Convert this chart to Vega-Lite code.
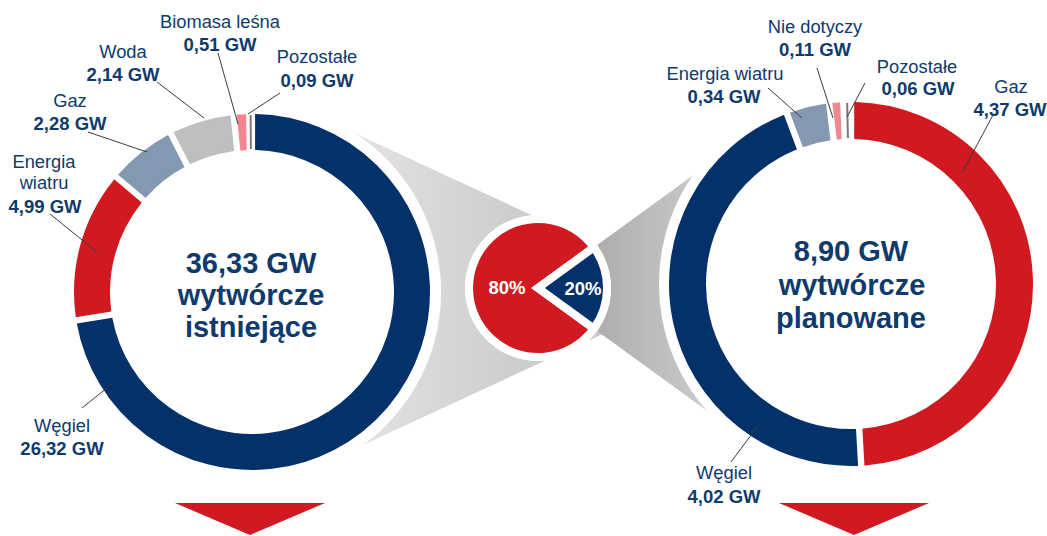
{
"$schema": "https://vega.github.io/schema/vega-lite/v6.json",
"width": 1047, "height": 536, "autosize": {"type": "none"}, "padding": 0, "background": "white",
"config": {"view": {"stroke": null}, "text": {"font": "Liberation Sans"},
  "locale": {"number": {"decimal": ",", "thousands": " ", "grouping": [3], "currency": ["", " GW"], "percent": "%"}}},
"datasets": {
  "istniejace": [{"zrodlo": "Węgiel", "gw": 26.32}, {"zrodlo": "Energia wiatru", "gw": 4.99}, {"zrodlo": "Gaz", "gw": 2.28}, {"zrodlo": "Woda", "gw": 2.14}, {"zrodlo": "Biomasa leśna", "gw": 0.51}, {"zrodlo": "Pozostałe", "gw": 0.09}],
  "planowane": [{"zrodlo": "Gaz", "gw": 4.37}, {"zrodlo": "Węgiel", "gw": 4.02}, {"zrodlo": "Energia wiatru", "gw": 0.34}, {"zrodlo": "Nie dotyczy", "gw": 0.11}, {"zrodlo": "Pozostałe", "gw": 0.06}],
  "udzial": [{"moc": "istniejące", "udzial": 0.8}, {"moc": "planowane", "udzial": 0.2}]
},
"resolve": {"scale": {"theta": "independent", "color": "independent", "stroke": "independent"}},
"layer": [
  {"data": {"name": "udzial"}, "transform": [{"filter": {"field": "moc", "equal": "istniejące"}}],
   "mark": {"type": "arc", "theta": 4.2796, "theta2": 5.1452, "radius": 395, "radius2": 0,
     "fill": {"gradient": "linear", "x1": 0, "y1": 0, "x2": 1, "y2": 0, "stops": [{"offset": 0.1, "color": "#e4e5e7"}, {"offset": 0.62, "color": "#c8c9cb"}]}},
   "encoding": {"x": {"datum": 696, "type": "quantitative", "scale": {"domain": [0, 1047], "nice": false, "zero": false}, "axis": null},
                "y": {"datum": 291, "type": "quantitative", "scale": {"domain": [0, 536], "nice": false, "zero": false, "reverse": true}, "axis": null}}},
  {"data": {"name": "udzial"}, "transform": [{"filter": {"field": "moc", "equal": "planowane"}}],
   "mark": {"type": "arc", "theta": 0.9425, "theta2": 2.1991, "radius": 295, "radius2": 0,
     "fill": {"gradient": "linear", "x1": 0, "y1": 0, "x2": 1, "y2": 0, "stops": [{"offset": 0.2, "color": "#adadad"}, {"offset": 0.55, "color": "#c9c9c9"}]}},
   "encoding": {"x": {"datum": 538, "type": "quantitative", "scale": {"domain": [0, 1047], "nice": false, "zero": false}, "axis": null},
                "y": {"datum": 288, "type": "quantitative", "scale": {"domain": [0, 536], "nice": false, "zero": false, "reverse": true}, "axis": null}}},
  {"data": {"name": "istniejace"},
   "layer": [
     {"transform": [{"aggregate": [{"op": "sum", "field": "gw", "as": "suma"}]}],
      "mark": {"type": "arc", "radius": 189, "radius2": 0, "fill": "white"},
      "encoding": {"x": {"datum": 252, "type": "quantitative", "scale": {"domain": [0, 1047], "nice": false, "zero": false}, "axis": null},
                   "y": {"datum": 292, "type": "quantitative", "scale": {"domain": [0, 536], "nice": false, "zero": false, "reverse": true}, "axis": null}}},
     {"mark": {"type": "arc", "radius": 177, "radius2": 143, "padAngle": 0.036, "strokeWidth": 2},
      "encoding": {"x": {"datum": 252, "type": "quantitative", "scale": {"domain": [0, 1047], "nice": false, "zero": false}, "axis": null},
                   "y": {"datum": 292, "type": "quantitative", "scale": {"domain": [0, 536], "nice": false, "zero": false, "reverse": true}, "axis": null},
                   "theta": {"field": "gw", "type": "quantitative", "stack": true},
                   "order": {"field": "gw", "type": "quantitative", "sort": "descending"},
                   "color": {"field": "zrodlo", "type": "nominal", "legend": null, "scale": {"domain": ["Węgiel", "Energia wiatru", "Gaz", "Woda", "Biomasa leśna", "Pozostałe"], "range": ["#05316b", "#d01920", "#8598b1", "#bfbfbf", "#f2878f", "#7a7a7a"]}},
                   "stroke": {"field": "zrodlo", "type": "nominal", "legend": null, "scale": {"domain": ["Węgiel", "Energia wiatru", "Gaz", "Woda", "Biomasa leśna", "Pozostałe"], "range": ["#05316b", "#d01920", "#8598b1", "#bfbfbf", "#f2878f", "#7a7a7a"]}}}},
     {"transform": [{"aggregate": [{"op": "sum", "field": "gw", "as": "suma"}]}],
      "mark": {"type": "text", "fontSize": 29, "fontWeight": "bold", "color": "#0e3a6c", "baseline": "alphabetic"},
      "encoding": {"x": {"datum": 251, "type": "quantitative", "scale": {"domain": [0, 1047], "nice": false, "zero": false}, "axis": null},
                   "y": {"datum": 273, "type": "quantitative", "scale": {"domain": [0, 536], "nice": false, "zero": false, "reverse": true}, "axis": null},
                   "text": {"field": "suma", "type": "quantitative", "format": "$.2f"}}},
     {"transform": [{"aggregate": [{"op": "sum", "field": "gw", "as": "suma"}]}],
      "mark": {"type": "text", "text": "wytwórcze", "fontSize": 29, "fontWeight": "bold", "color": "#0e3a6c", "baseline": "alphabetic"},
      "encoding": {"x": {"datum": 251, "type": "quantitative", "scale": {"domain": [0, 1047], "nice": false, "zero": false}, "axis": null},
                   "y": {"datum": 305, "type": "quantitative", "scale": {"domain": [0, 536], "nice": false, "zero": false, "reverse": true}, "axis": null}}},
     {"transform": [{"aggregate": [{"op": "sum", "field": "gw", "as": "suma"}]}],
      "mark": {"type": "text", "text": "istniejące", "fontSize": 29, "fontWeight": "bold", "color": "#0e3a6c", "baseline": "alphabetic"},
      "encoding": {"x": {"datum": 251, "type": "quantitative", "scale": {"domain": [0, 1047], "nice": false, "zero": false}, "axis": null},
                   "y": {"datum": 337, "type": "quantitative", "scale": {"domain": [0, 536], "nice": false, "zero": false, "reverse": true}, "axis": null}}}
   ]},
  {"data": {"name": "planowane"},
   "layer": [
     {"transform": [{"aggregate": [{"op": "sum", "field": "gw", "as": "suma"}]}],
      "mark": {"type": "arc", "radius": 192, "radius2": 0, "fill": "white"},
      "encoding": {"x": {"datum": 851, "type": "quantitative", "scale": {"domain": [0, 1047], "nice": false, "zero": false}, "axis": null},
                   "y": {"datum": 284, "type": "quantitative", "scale": {"domain": [0, 536], "nice": false, "zero": false, "reverse": true}, "axis": null}}},
     {"mark": {"type": "arc", "radius": 181, "radius2": 146, "padAngle": 0.036, "strokeWidth": 2},
      "encoding": {"x": {"datum": 851, "type": "quantitative", "scale": {"domain": [0, 1047], "nice": false, "zero": false}, "axis": null},
                   "y": {"datum": 284, "type": "quantitative", "scale": {"domain": [0, 536], "nice": false, "zero": false, "reverse": true}, "axis": null},
                   "theta": {"field": "gw", "type": "quantitative", "stack": true},
                   "order": {"field": "gw", "type": "quantitative", "sort": "descending"},
                   "color": {"field": "zrodlo", "type": "nominal", "legend": null, "scale": {"domain": ["Gaz", "Węgiel", "Energia wiatru", "Nie dotyczy", "Pozostałe"], "range": ["#d01920", "#05316b", "#8598b1", "#f2878f", "#7a7a7a"]}},
                   "stroke": {"field": "zrodlo", "type": "nominal", "legend": null, "scale": {"domain": ["Gaz", "Węgiel", "Energia wiatru", "Nie dotyczy", "Pozostałe"], "range": ["#d01920", "#05316b", "#8598b1", "#f2878f", "#7a7a7a"]}}}},
     {"transform": [{"aggregate": [{"op": "sum", "field": "gw", "as": "suma"}]}],
      "mark": {"type": "text", "fontSize": 29, "fontWeight": "bold", "color": "#0e3a6c", "baseline": "alphabetic"},
      "encoding": {"x": {"datum": 851, "type": "quantitative", "scale": {"domain": [0, 1047], "nice": false, "zero": false}, "axis": null},
                   "y": {"datum": 261, "type": "quantitative", "scale": {"domain": [0, 536], "nice": false, "zero": false, "reverse": true}, "axis": null},
                   "text": {"field": "suma", "type": "quantitative", "format": "$.2f"}}},
     {"transform": [{"aggregate": [{"op": "sum", "field": "gw", "as": "suma"}]}],
      "mark": {"type": "text", "text": "wytwórcze", "fontSize": 29, "fontWeight": "bold", "color": "#0e3a6c", "baseline": "alphabetic"},
      "encoding": {"x": {"datum": 852, "type": "quantitative", "scale": {"domain": [0, 1047], "nice": false, "zero": false}, "axis": null},
                   "y": {"datum": 295, "type": "quantitative", "scale": {"domain": [0, 536], "nice": false, "zero": false, "reverse": true}, "axis": null}}},
     {"transform": [{"aggregate": [{"op": "sum", "field": "gw", "as": "suma"}]}],
      "mark": {"type": "text", "text": "planowane", "fontSize": 29, "fontWeight": "bold", "color": "#0e3a6c", "baseline": "alphabetic"},
      "encoding": {"x": {"datum": 851, "type": "quantitative", "scale": {"domain": [0, 1047], "nice": false, "zero": false}, "axis": null},
                   "y": {"datum": 328, "type": "quantitative", "scale": {"domain": [0, 536], "nice": false, "zero": false, "reverse": true}, "axis": null}}}
   ]},
  {"data": {"name": "udzial"},
   "layer": [
     {"transform": [{"aggregate": [{"op": "sum", "field": "udzial", "as": "suma"}]}],
      "mark": {"type": "arc", "radius": 73, "radius2": 0, "fill": "white"},
      "encoding": {"x": {"datum": 538, "type": "quantitative", "scale": {"domain": [0, 1047], "nice": false, "zero": false}, "axis": null},
                   "y": {"datum": 288, "type": "quantitative", "scale": {"domain": [0, 536], "nice": false, "zero": false, "reverse": true}, "axis": null}}},
     {"mark": {"type": "arc", "radius": 69, "radius2": 0, "stroke": "white", "strokeWidth": 8},
      "encoding": {"x": {"datum": 538, "type": "quantitative", "scale": {"domain": [0, 1047], "nice": false, "zero": false}, "axis": null},
                   "y": {"datum": 288, "type": "quantitative", "scale": {"domain": [0, 536], "nice": false, "zero": false, "reverse": true}, "axis": null},
                   "theta": {"field": "udzial", "type": "quantitative", "stack": true, "scale": {"range": [2.19911, 8.48230]}},
                   "order": {"field": "udzial", "type": "quantitative", "sort": "descending"},
                   "color": {"field": "moc", "type": "nominal", "legend": null, "scale": {"domain": ["istniejące", "planowane"], "range": ["#d01920", "#05316b"]}}}},
     {"transform": [{"filter": {"field": "moc", "equal": "istniejące"}}],
      "mark": {"type": "text", "fontSize": 18.5, "fontWeight": "bold", "color": "white"},
      "encoding": {"x": {"datum": 507, "type": "quantitative", "scale": {"domain": [0, 1047], "nice": false, "zero": false}, "axis": null},
                   "y": {"datum": 288, "type": "quantitative", "scale": {"domain": [0, 536], "nice": false, "zero": false, "reverse": true}, "axis": null},
                   "text": {"field": "udzial", "type": "quantitative", "format": ".0%"}}},
     {"transform": [{"filter": {"field": "moc", "equal": "planowane"}}],
      "mark": {"type": "text", "fontSize": 18.5, "fontWeight": "bold", "color": "white"},
      "encoding": {"x": {"datum": 583, "type": "quantitative", "scale": {"domain": [0, 1047], "nice": false, "zero": false}, "axis": null},
                   "y": {"datum": 289, "type": "quantitative", "scale": {"domain": [0, 536], "nice": false, "zero": false, "reverse": true}, "axis": null},
                   "text": {"field": "udzial", "type": "quantitative", "format": ".0%"}}},
     {"transform": [{"filter": {"field": "moc", "equal": "istniejące"}}],
      "mark": {"type": "point", "shape": "M-1,-0.2133L1,-0.2133L0,0.2133Z", "size": 22500, "filled": true, "fill": "#d01920", "opacity": 1, "strokeWidth": 0},
      "encoding": {"x": {"datum": 250, "type": "quantitative", "scale": {"domain": [0, 1047], "nice": false, "zero": false}, "axis": null},
                   "y": {"datum": 519, "type": "quantitative", "scale": {"domain": [0, 536], "nice": false, "zero": false, "reverse": true}, "axis": null}}},
     {"transform": [{"filter": {"field": "moc", "equal": "planowane"}}],
      "mark": {"type": "point", "shape": "M-1,-0.2133L1,-0.2133L0,0.2133Z", "size": 22500, "filled": true, "fill": "#d01920", "opacity": 1, "strokeWidth": 0},
      "encoding": {"x": {"datum": 854, "type": "quantitative", "scale": {"domain": [0, 1047], "nice": false, "zero": false}, "axis": null},
                   "y": {"datum": 519, "type": "quantitative", "scale": {"domain": [0, 536], "nice": false, "zero": false, "reverse": true}, "axis": null}}}
   ]},
  {"data": {"name": "istniejace"}, "transform": [{"filter": {"field": "zrodlo", "equal": "Biomasa leśna"}}],
   "layer": [
     {"mark": {"type": "rule", "color": "#3c3c3c", "strokeWidth": 1}, "encoding": {"x": {"datum": 218, "type": "quantitative", "scale": {"domain": [0, 1047], "nice": false, "zero": false}, "axis": null}, "y": {"datum": 53, "type": "quantitative", "scale": {"domain": [0, 536], "nice": false, "zero": false, "reverse": true}, "axis": null}, "x2": {"datum": 238}, "y2": {"datum": 124}}},
     {"mark": {"type": "text", "fontSize": 18.3, "color": "#0e3a6c"}, "encoding": {"x": {"datum": 220, "type": "quantitative", "scale": {"domain": [0, 1047], "nice": false, "zero": false}, "axis": null}, "y": {"datum": 23, "type": "quantitative", "scale": {"domain": [0, 536], "nice": false, "zero": false, "reverse": true}, "axis": null}, "text": {"field": "zrodlo", "type": "nominal"}}},
     {"mark": {"type": "text", "fontSize": 18.5, "fontWeight": "bold", "color": "#0e3a6c"}, "encoding": {"x": {"datum": 220, "type": "quantitative", "scale": {"domain": [0, 1047], "nice": false, "zero": false}, "axis": null}, "y": {"datum": 45, "type": "quantitative", "scale": {"domain": [0, 536], "nice": false, "zero": false, "reverse": true}, "axis": null}, "text": {"field": "gw", "type": "quantitative", "format": "$.2f"}}}
   ]},
  {"data": {"name": "istniejace"}, "transform": [{"filter": {"field": "zrodlo", "equal": "Pozostałe"}}],
   "layer": [
     {"mark": {"type": "rule", "color": "#3c3c3c", "strokeWidth": 1}, "encoding": {"x": {"datum": 280, "type": "quantitative", "scale": {"domain": [0, 1047], "nice": false, "zero": false}, "axis": null}, "y": {"datum": 93, "type": "quantitative", "scale": {"domain": [0, 536], "nice": false, "zero": false, "reverse": true}, "axis": null}, "x2": {"datum": 248}, "y2": {"datum": 114}}},
     {"mark": {"type": "text", "fontSize": 18.3, "color": "#0e3a6c"}, "encoding": {"x": {"datum": 317, "type": "quantitative", "scale": {"domain": [0, 1047], "nice": false, "zero": false}, "axis": null}, "y": {"datum": 58, "type": "quantitative", "scale": {"domain": [0, 536], "nice": false, "zero": false, "reverse": true}, "axis": null}, "text": {"field": "zrodlo", "type": "nominal"}}},
     {"mark": {"type": "text", "fontSize": 18.5, "fontWeight": "bold", "color": "#0e3a6c"}, "encoding": {"x": {"datum": 317, "type": "quantitative", "scale": {"domain": [0, 1047], "nice": false, "zero": false}, "axis": null}, "y": {"datum": 81, "type": "quantitative", "scale": {"domain": [0, 536], "nice": false, "zero": false, "reverse": true}, "axis": null}, "text": {"field": "gw", "type": "quantitative", "format": "$.2f"}}}
   ]},
  {"data": {"name": "istniejace"}, "transform": [{"filter": {"field": "zrodlo", "equal": "Woda"}}],
   "layer": [
     {"mark": {"type": "rule", "color": "#3c3c3c", "strokeWidth": 1}, "encoding": {"x": {"datum": 157, "type": "quantitative", "scale": {"domain": [0, 1047], "nice": false, "zero": false}, "axis": null}, "y": {"datum": 82, "type": "quantitative", "scale": {"domain": [0, 536], "nice": false, "zero": false, "reverse": true}, "axis": null}, "x2": {"datum": 204}, "y2": {"datum": 118}}},
     {"mark": {"type": "text", "fontSize": 18.3, "color": "#0e3a6c"}, "encoding": {"x": {"datum": 123, "type": "quantitative", "scale": {"domain": [0, 1047], "nice": false, "zero": false}, "axis": null}, "y": {"datum": 53, "type": "quantitative", "scale": {"domain": [0, 536], "nice": false, "zero": false, "reverse": true}, "axis": null}, "text": {"field": "zrodlo", "type": "nominal"}}},
     {"mark": {"type": "text", "fontSize": 18.5, "fontWeight": "bold", "color": "#0e3a6c"}, "encoding": {"x": {"datum": 123, "type": "quantitative", "scale": {"domain": [0, 1047], "nice": false, "zero": false}, "axis": null}, "y": {"datum": 75, "type": "quantitative", "scale": {"domain": [0, 536], "nice": false, "zero": false, "reverse": true}, "axis": null}, "text": {"field": "gw", "type": "quantitative", "format": "$.2f"}}}
   ]},
  {"data": {"name": "istniejace"}, "transform": [{"filter": {"field": "zrodlo", "equal": "Gaz"}}],
   "layer": [
     {"mark": {"type": "rule", "color": "#3c3c3c", "strokeWidth": 1}, "encoding": {"x": {"datum": 88, "type": "quantitative", "scale": {"domain": [0, 1047], "nice": false, "zero": false}, "axis": null}, "y": {"datum": 132, "type": "quantitative", "scale": {"domain": [0, 536], "nice": false, "zero": false, "reverse": true}, "axis": null}, "x2": {"datum": 147}, "y2": {"datum": 152}}},
     {"mark": {"type": "text", "fontSize": 18.3, "color": "#0e3a6c"}, "encoding": {"x": {"datum": 70, "type": "quantitative", "scale": {"domain": [0, 1047], "nice": false, "zero": false}, "axis": null}, "y": {"datum": 102, "type": "quantitative", "scale": {"domain": [0, 536], "nice": false, "zero": false, "reverse": true}, "axis": null}, "text": {"field": "zrodlo", "type": "nominal"}}},
     {"mark": {"type": "text", "fontSize": 18.5, "fontWeight": "bold", "color": "#0e3a6c"}, "encoding": {"x": {"datum": 70, "type": "quantitative", "scale": {"domain": [0, 1047], "nice": false, "zero": false}, "axis": null}, "y": {"datum": 124, "type": "quantitative", "scale": {"domain": [0, 536], "nice": false, "zero": false, "reverse": true}, "axis": null}, "text": {"field": "gw", "type": "quantitative", "format": "$.2f"}}}
   ]},
  {"data": {"name": "istniejace"}, "transform": [{"filter": {"field": "zrodlo", "equal": "Energia wiatru"}}],
   "layer": [
     {"mark": {"type": "rule", "color": "#3c3c3c", "strokeWidth": 1}, "encoding": {"x": {"datum": 50, "type": "quantitative", "scale": {"domain": [0, 1047], "nice": false, "zero": false}, "axis": null}, "y": {"datum": 214, "type": "quantitative", "scale": {"domain": [0, 536], "nice": false, "zero": false, "reverse": true}, "axis": null}, "x2": {"datum": 97}, "y2": {"datum": 252}}},
     {"mark": {"type": "text", "fontSize": 18.3, "color": "#0e3a6c", "lineBreak": " ", "lineHeight": 21}, "encoding": {"x": {"datum": 44, "type": "quantitative", "scale": {"domain": [0, 1047], "nice": false, "zero": false}, "axis": null}, "y": {"datum": 163, "type": "quantitative", "scale": {"domain": [0, 536], "nice": false, "zero": false, "reverse": true}, "axis": null}, "text": {"field": "zrodlo", "type": "nominal"}}},
     {"mark": {"type": "text", "fontSize": 18.5, "fontWeight": "bold", "color": "#0e3a6c"}, "encoding": {"x": {"datum": 45, "type": "quantitative", "scale": {"domain": [0, 1047], "nice": false, "zero": false}, "axis": null}, "y": {"datum": 207, "type": "quantitative", "scale": {"domain": [0, 536], "nice": false, "zero": false, "reverse": true}, "axis": null}, "text": {"field": "gw", "type": "quantitative", "format": "$.2f"}}}
   ]},
  {"data": {"name": "istniejace"}, "transform": [{"filter": {"field": "zrodlo", "equal": "Węgiel"}}],
   "layer": [
     {"mark": {"type": "rule", "color": "#3c3c3c", "strokeWidth": 1}, "encoding": {"x": {"datum": 82, "type": "quantitative", "scale": {"domain": [0, 1047], "nice": false, "zero": false}, "axis": null}, "y": {"datum": 408, "type": "quantitative", "scale": {"domain": [0, 536], "nice": false, "zero": false, "reverse": true}, "axis": null}, "x2": {"datum": 113}, "y2": {"datum": 383}}},
     {"mark": {"type": "text", "fontSize": 18.3, "color": "#0e3a6c"}, "encoding": {"x": {"datum": 62, "type": "quantitative", "scale": {"domain": [0, 1047], "nice": false, "zero": false}, "axis": null}, "y": {"datum": 427, "type": "quantitative", "scale": {"domain": [0, 536], "nice": false, "zero": false, "reverse": true}, "axis": null}, "text": {"field": "zrodlo", "type": "nominal"}}},
     {"mark": {"type": "text", "fontSize": 18.5, "fontWeight": "bold", "color": "#0e3a6c"}, "encoding": {"x": {"datum": 62, "type": "quantitative", "scale": {"domain": [0, 1047], "nice": false, "zero": false}, "axis": null}, "y": {"datum": 449, "type": "quantitative", "scale": {"domain": [0, 536], "nice": false, "zero": false, "reverse": true}, "axis": null}, "text": {"field": "gw", "type": "quantitative", "format": "$.2f"}}}
   ]},
  {"data": {"name": "planowane"}, "transform": [{"filter": {"field": "zrodlo", "equal": "Nie dotyczy"}}],
   "layer": [
     {"mark": {"type": "rule", "color": "#3c3c3c", "strokeWidth": 1}, "encoding": {"x": {"datum": 817, "type": "quantitative", "scale": {"domain": [0, 1047], "nice": false, "zero": false}, "axis": null}, "y": {"datum": 68, "type": "quantitative", "scale": {"domain": [0, 536], "nice": false, "zero": false, "reverse": true}, "axis": null}, "x2": {"datum": 833}, "y2": {"datum": 118}}},
     {"mark": {"type": "text", "fontSize": 18.3, "color": "#0e3a6c"}, "encoding": {"x": {"datum": 815, "type": "quantitative", "scale": {"domain": [0, 1047], "nice": false, "zero": false}, "axis": null}, "y": {"datum": 28, "type": "quantitative", "scale": {"domain": [0, 536], "nice": false, "zero": false, "reverse": true}, "axis": null}, "text": {"field": "zrodlo", "type": "nominal"}}},
     {"mark": {"type": "text", "fontSize": 18.5, "fontWeight": "bold", "color": "#0e3a6c"}, "encoding": {"x": {"datum": 815, "type": "quantitative", "scale": {"domain": [0, 1047], "nice": false, "zero": false}, "axis": null}, "y": {"datum": 50, "type": "quantitative", "scale": {"domain": [0, 536], "nice": false, "zero": false, "reverse": true}, "axis": null}, "text": {"field": "gw", "type": "quantitative", "format": "$.2f"}}}
   ]},
  {"data": {"name": "planowane"}, "transform": [{"filter": {"field": "zrodlo", "equal": "Energia wiatru"}}],
   "layer": [
     {"mark": {"type": "rule", "color": "#3c3c3c", "strokeWidth": 1}, "encoding": {"x": {"datum": 768, "type": "quantitative", "scale": {"domain": [0, 1047], "nice": false, "zero": false}, "axis": null}, "y": {"datum": 88, "type": "quantitative", "scale": {"domain": [0, 536], "nice": false, "zero": false, "reverse": true}, "axis": null}, "x2": {"datum": 802}, "y2": {"datum": 118}}},
     {"mark": {"type": "text", "fontSize": 18.3, "color": "#0e3a6c"}, "encoding": {"x": {"datum": 725, "type": "quantitative", "scale": {"domain": [0, 1047], "nice": false, "zero": false}, "axis": null}, "y": {"datum": 75, "type": "quantitative", "scale": {"domain": [0, 536], "nice": false, "zero": false, "reverse": true}, "axis": null}, "text": {"field": "zrodlo", "type": "nominal"}}},
     {"mark": {"type": "text", "fontSize": 18.5, "fontWeight": "bold", "color": "#0e3a6c"}, "encoding": {"x": {"datum": 724, "type": "quantitative", "scale": {"domain": [0, 1047], "nice": false, "zero": false}, "axis": null}, "y": {"datum": 97, "type": "quantitative", "scale": {"domain": [0, 536], "nice": false, "zero": false, "reverse": true}, "axis": null}, "text": {"field": "gw", "type": "quantitative", "format": "$.2f"}}}
   ]},
  {"data": {"name": "planowane"}, "transform": [{"filter": {"field": "zrodlo", "equal": "Pozostałe"}}],
   "layer": [
     {"mark": {"type": "rule", "color": "#3c3c3c", "strokeWidth": 1}, "encoding": {"x": {"datum": 865, "type": "quantitative", "scale": {"domain": [0, 1047], "nice": false, "zero": false}, "axis": null}, "y": {"datum": 83, "type": "quantitative", "scale": {"domain": [0, 536], "nice": false, "zero": false, "reverse": true}, "axis": null}, "x2": {"datum": 847}, "y2": {"datum": 117}}},
     {"mark": {"type": "text", "fontSize": 18.3, "color": "#0e3a6c"}, "encoding": {"x": {"datum": 917, "type": "quantitative", "scale": {"domain": [0, 1047], "nice": false, "zero": false}, "axis": null}, "y": {"datum": 68, "type": "quantitative", "scale": {"domain": [0, 536], "nice": false, "zero": false, "reverse": true}, "axis": null}, "text": {"field": "zrodlo", "type": "nominal"}}},
     {"mark": {"type": "text", "fontSize": 18.5, "fontWeight": "bold", "color": "#0e3a6c"}, "encoding": {"x": {"datum": 918, "type": "quantitative", "scale": {"domain": [0, 1047], "nice": false, "zero": false}, "axis": null}, "y": {"datum": 89, "type": "quantitative", "scale": {"domain": [0, 536], "nice": false, "zero": false, "reverse": true}, "axis": null}, "text": {"field": "gw", "type": "quantitative", "format": "$.2f"}}}
   ]},
  {"data": {"name": "planowane"}, "transform": [{"filter": {"field": "zrodlo", "equal": "Gaz"}}],
   "layer": [
     {"mark": {"type": "rule", "color": "#3c3c3c", "strokeWidth": 1}, "encoding": {"x": {"datum": 993, "type": "quantitative", "scale": {"domain": [0, 1047], "nice": false, "zero": false}, "axis": null}, "y": {"datum": 115, "type": "quantitative", "scale": {"domain": [0, 536], "nice": false, "zero": false, "reverse": true}, "axis": null}, "x2": {"datum": 962}, "y2": {"datum": 173}}},
     {"mark": {"type": "text", "fontSize": 18.3, "color": "#0e3a6c"}, "encoding": {"x": {"datum": 1011, "type": "quantitative", "scale": {"domain": [0, 1047], "nice": false, "zero": false}, "axis": null}, "y": {"datum": 88, "type": "quantitative", "scale": {"domain": [0, 536], "nice": false, "zero": false, "reverse": true}, "axis": null}, "text": {"field": "zrodlo", "type": "nominal"}}},
     {"mark": {"type": "text", "fontSize": 18.5, "fontWeight": "bold", "color": "#0e3a6c"}, "encoding": {"x": {"datum": 1010, "type": "quantitative", "scale": {"domain": [0, 1047], "nice": false, "zero": false}, "axis": null}, "y": {"datum": 110, "type": "quantitative", "scale": {"domain": [0, 536], "nice": false, "zero": false, "reverse": true}, "axis": null}, "text": {"field": "gw", "type": "quantitative", "format": "$.2f"}}}
   ]},
  {"data": {"name": "planowane"}, "transform": [{"filter": {"field": "zrodlo", "equal": "Węgiel"}}],
   "layer": [
     {"mark": {"type": "rule", "color": "#3c3c3c", "strokeWidth": 1}, "encoding": {"x": {"datum": 731, "type": "quantitative", "scale": {"domain": [0, 1047], "nice": false, "zero": false}, "axis": null}, "y": {"datum": 462, "type": "quantitative", "scale": {"domain": [0, 536], "nice": false, "zero": false, "reverse": true}, "axis": null}, "x2": {"datum": 757}, "y2": {"datum": 427}}},
     {"mark": {"type": "text", "fontSize": 18.3, "color": "#0e3a6c"}, "encoding": {"x": {"datum": 724, "type": "quantitative", "scale": {"domain": [0, 1047], "nice": false, "zero": false}, "axis": null}, "y": {"datum": 474, "type": "quantitative", "scale": {"domain": [0, 536], "nice": false, "zero": false, "reverse": true}, "axis": null}, "text": {"field": "zrodlo", "type": "nominal"}}},
     {"mark": {"type": "text", "fontSize": 18.5, "fontWeight": "bold", "color": "#0e3a6c"}, "encoding": {"x": {"datum": 724, "type": "quantitative", "scale": {"domain": [0, 1047], "nice": false, "zero": false}, "axis": null}, "y": {"datum": 497, "type": "quantitative", "scale": {"domain": [0, 536], "nice": false, "zero": false, "reverse": true}, "axis": null}, "text": {"field": "gw", "type": "quantitative", "format": "$.2f"}}}
   ]}
]
}
